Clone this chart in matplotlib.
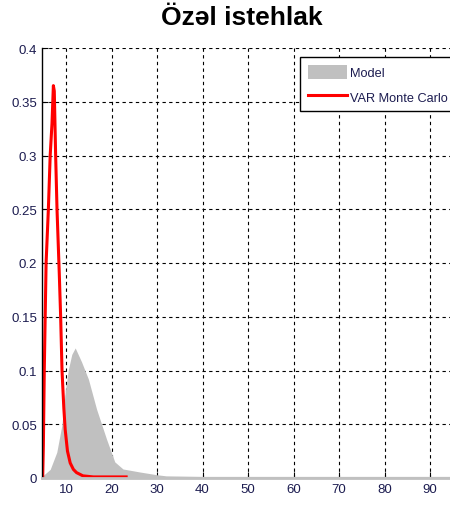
import matplotlib
matplotlib.use("Agg")
import matplotlib.pyplot as plt
import numpy as np

# red curve: VAR Monte Carlo density
var_x = [4.85, 5.0, 5.2, 5.4, 5.6, 6.1, 6.5, 6.9, 7.2, 7.4, 7.7, 8.0, 8.5, 8.8,
         9.1, 9.5, 9.8, 10.3, 10.9, 11.6, 12.3, 13.7, 16.0, 20.0, 23.2]
var_y = [0.0, 0.03, 0.10, 0.15, 0.20, 0.25, 0.30, 0.33, 0.365, 0.36, 0.30, 0.25,
         0.19, 0.15, 0.10, 0.065, 0.045, 0.025, 0.014, 0.008, 0.005, 0.002,
         0.001, 0.001, 0.001]

# gray area: model density
model_x = [4.85, 6.5, 7.95, 9.06, 9.8, 10.5, 11.25, 12.0, 13.4, 14.9, 16.7,
           18.9, 20.7, 22.5, 26.2, 30.0, 32.0, 40.0, 60.0, 80.0, 100.0]
model_y = [0.002, 0.008, 0.024, 0.049, 0.080, 0.101, 0.115, 0.121, 0.108,
           0.092, 0.064, 0.036, 0.015, 0.0084, 0.0056, 0.003, 0.002, 0.0015,
           0.0015, 0.0015, 0.0015]

xticks = [10, 20, 30, 40, 50, 60, 70, 80, 90]
yticks = [0, 0.05, 0.1, 0.15, 0.2, 0.25, 0.3, 0.35, 0.4]
ylabels = ["0", "0.05", "0.1", "0.15", "0.2", "0.25", "0.3", "0.35", "0.4"]

plt.rcParams["font.family"] = ["Liberation Sans", "DejaVu Sans"]

W, H = 450, 510
fig = plt.figure(figsize=(W / 100, H / 100), dpi=100)
ax = fig.add_axes([42 / W, 31 / H, (450 - 42) / W, 430 / H])

ax.fill_between(model_x, 0, model_y, color="#c0c0c0", linewidth=0, label="Model")
ax.plot(var_x, var_y, color="red", linewidth=2.2, label="VAR Monte Carlo")

ax.set_xlim(4.7, 94.4)
ax.set_ylim(0, 0.4)
ax.set_xticks(xticks)
ax.set_yticks(yticks)
ax.set_yticklabels(ylabels)
ax.tick_params(direction="in", length=4, labelsize=9.5, labelcolor="#1c1c50",
               color="black", width=0.8)
ax.grid(True, color="black", linestyle=(0, (3, 3)), linewidth=0.8)
ax.set_axisbelow(True)

ax.spines["top"].set_visible(False)
ax.spines["right"].set_visible(False)
ax.spines["left"].set_color("black")
ax.spines["left"].set_linewidth(1.0)
ax.spines["bottom"].set_color("#c0c0c0")
ax.spines["bottom"].set_linewidth(2.0)

leg = ax.legend(loc="upper left", bbox_to_anchor=(300 / W, 1 - 58 / H),
                bbox_transform=fig.transFigure, fancybox=False, framealpha=1,
                edgecolor="black", fontsize=9.2, borderaxespad=0,
                handlelength=3.1, handleheight=1.4, handletextpad=0.25,
                borderpad=0.6, labelspacing=0.75)
leg.get_frame().set_linewidth(1.0)
for t in leg.get_texts():
    t.set_color("#1c1c50")

fig.text(242 / W, 1 - 18 / H, "Özəl istehlak", ha="center", va="center",
         fontsize=19, fontweight="bold")

fig.savefig("out.png", dpi=100)
